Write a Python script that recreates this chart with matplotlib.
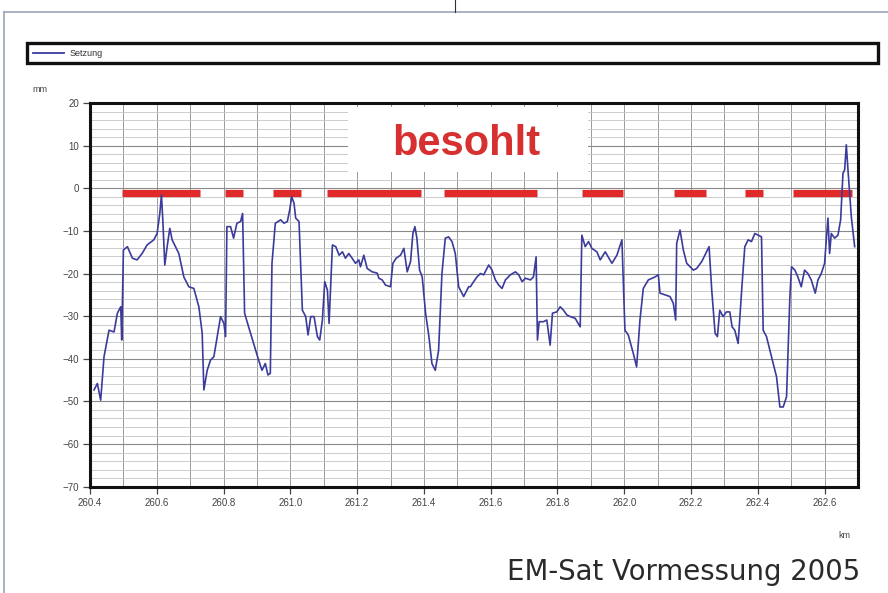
import numpy as np
import matplotlib
matplotlib.use("Agg")
import matplotlib.pyplot as plt
from matplotlib.lines import Line2D
from matplotlib.patches import Rectangle
from matplotlib.ticker import MultipleLocator

# -----------------------------------------------------------------------------
# Data
# -----------------------------------------------------------------------------
km = [
    260.412, 260.422, 260.432, 260.442, 260.457, 260.472, 260.482, 260.492, 260.495, 260.500,
    260.512, 260.527, 260.541, 260.556, 260.571, 260.591, 260.601, 260.609, 260.614, 260.618,
    260.624, 260.631, 260.639, 260.646, 260.656, 260.666, 260.681, 260.696, 260.711, 260.726,
    260.736, 260.741, 260.751, 260.761, 260.771, 260.781, 260.791, 260.801, 260.806, 260.810,
    260.821, 260.830, 260.840, 260.851, 260.857, 260.863, 260.875, 260.890, 260.905, 260.915,
    260.925, 260.933, 260.940, 260.945, 260.955, 260.971, 260.981, 260.991, 260.998, 261.004,
    261.011, 261.016, 261.026, 261.036, 261.046, 261.053, 261.061, 261.071, 261.081, 261.088,
    261.096, 261.103, 261.111, 261.116, 261.126, 261.136, 261.146, 261.156, 261.165, 261.175,
    261.185, 261.195, 261.205, 261.210, 261.220, 261.230, 261.245, 261.260, 261.265, 261.275,
    261.285, 261.300, 261.307, 261.317, 261.330, 261.340, 261.350, 261.360, 261.367, 261.373,
    261.379, 261.387, 261.395, 261.405, 261.415, 261.424, 261.434, 261.444, 261.454, 261.464,
    261.474, 261.484, 261.494, 261.504, 261.519, 261.534, 261.539, 261.549, 261.559, 261.569,
    261.579, 261.594, 261.604, 261.614, 261.624, 261.634, 261.644, 261.659, 261.674, 261.684,
    261.694, 261.704, 261.719, 261.728, 261.736, 261.740, 261.745, 261.758, 261.768, 261.778,
    261.785, 261.798, 261.808, 261.818, 261.828, 261.838, 261.853, 261.868, 261.873, 261.883,
    261.893, 261.903, 261.918, 261.928, 261.943, 261.963, 261.978, 261.993, 262.002, 262.012,
    262.027, 262.037, 262.047, 262.057, 262.072, 262.092, 262.102, 262.107, 262.122, 262.137,
    262.147, 262.154, 262.157, 262.167, 262.177, 262.187, 262.197, 262.207, 262.217, 262.232,
    262.244, 262.254, 262.262, 262.272, 262.279, 262.286, 262.296, 262.306, 262.316, 262.323,
    262.331, 262.341, 262.353, 262.361, 262.371, 262.381, 262.391, 262.401, 262.411, 262.416,
    262.426, 262.436, 262.446, 262.456, 262.466, 262.476, 262.486, 262.496, 262.501, 262.511,
    262.520, 262.530, 262.540, 262.550, 262.560, 262.572, 262.580, 262.590, 262.600, 262.605,
    262.610, 262.615, 262.620, 262.630, 262.640, 262.648, 262.655, 262.660, 262.665, 262.670,
    262.680, 262.690,
]
setzung = [
    -47.3, -45.8, -49.7, -39.5, -33.3, -33.7, -29.3, -27.8, -35.6, -14.5,
    -13.7, -16.4, -16.8, -15.3, -13.3, -12.1, -10.6, -5.9, -1.6, -7.4,
    -18.0, -13.7, -9.4, -12.1, -13.7, -15.3, -20.8, -23.1, -23.5, -27.8,
    -34.0, -47.3, -42.7, -40.3, -39.5, -34.8, -30.1, -31.7, -34.8, -9.0,
    -9.0, -11.7, -8.2, -7.8, -5.9, -29.3, -32.5, -36.4, -40.3, -42.7,
    -41.1, -43.8, -43.4, -17.6, -8.2, -7.4, -8.2, -7.8, -5.1, -2.0,
    -3.5, -7.0, -7.8, -28.6, -30.1, -34.4, -30.1, -30.1, -34.8, -35.6,
    -30.9, -21.9, -23.9, -31.7, -13.3, -13.7, -15.7, -14.9, -16.4, -15.3,
    -16.4, -17.6, -16.8, -18.4, -15.7, -18.8, -19.6, -19.9, -21.1, -21.5,
    -22.7, -23.1, -17.6, -16.4, -15.7, -14.1, -19.6, -17.2, -10.6, -9.0,
    -11.7, -19.2, -20.8, -29.3, -34.8, -41.1, -42.7, -38.0, -20.0, -11.7,
    -11.4, -12.5, -15.3, -23.1, -25.4, -23.1, -23.1, -21.9, -20.8, -20.0,
    -20.3, -18.0, -19.2, -21.5, -22.7, -23.5, -21.5, -20.3, -19.6, -20.3,
    -21.9, -21.1, -21.5, -20.8, -16.1, -35.6, -31.3, -31.3, -30.9, -36.8,
    -29.3, -29.0, -27.8, -28.6, -29.7, -30.1, -30.5, -32.5, -11.0, -13.7,
    -12.5, -14.1, -14.9, -16.8, -14.9, -17.6, -15.7, -12.1, -33.3, -34.4,
    -38.7, -41.9, -30.9, -23.5, -21.5, -20.8, -20.3, -24.6, -25.0, -25.4,
    -27.0, -30.9, -12.9, -9.8, -14.5, -17.6, -18.4, -19.2, -18.8, -17.2,
    -15.3, -13.7, -23.9, -34.0, -34.8, -28.6, -30.1, -29.0, -29.0, -32.5,
    -33.3, -36.4, -22.3, -13.7, -12.1, -12.5, -10.6, -11.0, -11.4, -33.3,
    -34.8, -38.0, -41.1, -44.2, -51.3, -51.3, -48.9, -25.4, -18.4, -19.2,
    -20.8, -23.1, -19.2, -20.0, -21.5, -24.6, -21.5, -20.0, -17.6, -12.1,
    -7.0, -15.3, -10.6, -11.7, -11.0, -7.4, 3.5, 4.3, 10.2, 4.3,
    -6.7, -13.7,
]

# soled sections ("besohlt"), start / end in km
besohlt_start = [260.496, 260.804, 260.947, 261.109, 261.461, 261.874, 262.149, 262.361, 262.505]
besohlt_end = [260.729, 260.857, 261.031, 261.390, 261.739, 261.996, 262.245, 262.415, 262.683]
besohlt_level = -1.0

x_ticks = [260.4, 260.6, 260.8, 261.0, 261.2, 261.4, 261.6, 261.8, 262.0, 262.2, 262.4, 262.6]
y_ticks = [20, 10, 0, -10, -20, -30, -40, -50, -60, -70]

# -----------------------------------------------------------------------------
# Figure
# -----------------------------------------------------------------------------
W, H = 888, 593
fig = plt.figure(figsize=(W / 100, H / 100), dpi=100)
fig.patch.set_facecolor("white")


def fx(px):
    return px / W


def fy(py):
    return 1 - py / H


# page frame lines
frame_col = "#9aa6ba"
fig.add_artist(Line2D([fx(4), 1], [fy(12), fy(12)], color=frame_col, lw=1.2))
fig.add_artist(Line2D([fx(4), fx(4)], [fy(12), 0], color=frame_col, lw=1.2))
fig.add_artist(Line2D([fx(455), fx(455)], [1, fy(12)], color="#333333", lw=0.8))

ax = fig.add_axes([fx(90), fy(486.7), fx(858) - fx(90), fy(103) - fy(486.7)])

# grid
ax.xaxis.set_minor_locator(MultipleLocator(0.1))
ax.yaxis.set_minor_locator(MultipleLocator(2))
ax.grid(which="minor", axis="x", color="#9a9a9a", lw=0.7)
ax.grid(which="major", axis="x", color="#9a9a9a", lw=0.7)
ax.grid(which="minor", axis="y", color="#c4c4c4", lw=0.6)
ax.grid(which="major", axis="y", color="#8a8a8a", lw=0.8)
ax.set_axisbelow(True)

# red bars for soled sections
ax.hlines([besohlt_level] * len(besohlt_start), besohlt_start, besohlt_end,
          color="#e02a2a", lw=5.2, zorder=3)

# measurement line
ax.plot(km, setzung, color="#3b3b9c", lw=1.2, zorder=4, label="Setzung")

ax.set_xlim(260.4, 262.7)
ax.set_ylim(-70, 20)
ax.set_xticks(x_ticks)
ax.set_xticklabels([f"{v:.1f}" for v in x_ticks])
ax.set_yticks(y_ticks)

for sp in ax.spines.values():
    sp.set_linewidth(2.2)
    sp.set_color("#111111")
    sp.set_zorder(7)

ax.tick_params(which="major", direction="out", length=5, width=0.9, color="#444444",
               labelsize=7, labelcolor="#444444", pad=3)
ax.tick_params(which="minor", length=0)
for lab in ax.get_xticklabels() + ax.get_yticklabels():
    lab.set_fontfamily("Liberation Sans")

# "besohlt" label on a white box inside the plot area
ax.add_patch(Rectangle((261.174, 3.8), 261.892 - 261.174, 19.1 - 3.8,
                       facecolor="white", edgecolor="none", zorder=5))
ax.text(261.527, 10.4, "besohlt", ha="center", va="center",
        fontsize=30, fontweight="bold", color="#d63030", family="Liberation Sans",
        zorder=6)

# axis unit labels
fig.text(fx(32), fy(90), "mm", fontsize=6.5, color="#444444", va="center",
         family="Liberation Sans")
fig.text(fx(838), fy(535), "km", fontsize=6.5, color="#444444", va="center",
         family="Liberation Sans")

# legend box
fig.add_artist(Rectangle((fx(27), fy(63)), fx(878) - fx(27), fy(43) - fy(63),
                         transform=fig.transFigure, facecolor="white",
                         edgecolor="#111111", lw=2.4))
fig.add_artist(Line2D([fx(33), fx(64)], [fy(53), fy(53)], color="#3b3b9c", lw=1.3))
fig.text(fx(70), fy(53.5), "Setzung", fontsize=6.5, color="#333333", va="center",
         family="Liberation Sans")

# caption
fig.text(fx(860), fy(572), "EM-Sat Vormessung 2005", fontsize=19.8, color="#2a2a2a",
         ha="right", va="center", family="DejaVu Sans")

fig.savefig("out.png", dpi=100)
